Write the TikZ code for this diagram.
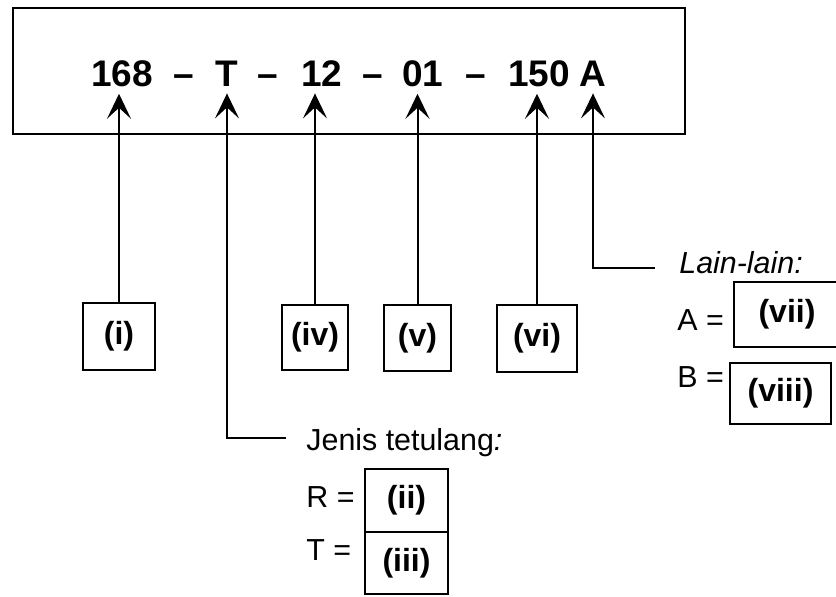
\documentclass[tikz,border=0pt]{standalone}
\usepackage{fontspec}
\setmainfont{Liberation Sans}
\usetikzlibrary{arrows.meta, positioning}

\begin{document}
\begin{tikzpicture}[
    x=0.5pt, y=-0.5pt,
    frame/.style={draw, line width=1pt, rectangle, minimum width=336pt, minimum height=63pt, inner sep=0pt},
    codetxt/.style={font=\fontsize{18.5}{20}\selectfont\bfseries, anchor=base, inner sep=3.5pt},
    ansbox/.style={draw, line width=0.9pt, rectangle, inner sep=0pt, font=\fontsize{16}{18}\selectfont\bfseries},
    note/.style={font=\fontsize{15.2}{17}\selectfont, anchor=base west, inner sep=0pt},
    arrow/.style={-{Stealth[length=12.5pt, width=12pt, inset=5.5pt]}, line width=1pt}
]
\useasboundingbox (0,0) rectangle (836,596);

% Frame
\node[frame] (code) at (349,71) {};

% Code parts
\node[codetxt] (t168) at (122,86) {168};
\node[codetxt] (d1) at (184,86) {\textendash};
\node[codetxt] (tT) at (227,86) {T};
\node[codetxt] (d2) at (268,86) {\textendash};
\node[codetxt] (t12) at (322,86) {12};
\node[codetxt] (d3) at (373,86) {\textendash};
\node[codetxt] (t01) at (423,86) {01};
\node[codetxt] (d4) at (476,86) {\textendash};
\node[codetxt] (t150) at (539,86) {150};
\node[codetxt] (tA) at (593,86) {A};

% Answer boxes
\node[ansbox, minimum width=36pt, minimum height=33.5pt] (bi) at (119,336.5) {(i)};
\node[ansbox, minimum width=33pt, minimum height=32.5pt] (biv) at (315,337.5) {(iv)};
\node[ansbox, minimum width=33.5pt, minimum height=33pt] (bv) at (417.5,338) {(v)};
\node[ansbox, minimum width=40pt, minimum height=33.5pt] (bvi) at (537,338.5) {(vi)};

% Jenis tetulang
\node[note] (jenis) at (306,450) {Jenis tetulang\textit{:}};
\node[note] (eqR) at (306,507) {R =};
\node[note] (eqT) at (306,560) {T =};
\node[ansbox, minimum width=41.5pt, minimum height=31.5pt] (bii) at (406.5,500.5) {(ii)};
\node[ansbox, minimum width=41.5pt, minimum height=31pt] (biii) at (406.5,563) {(iii)};

% Lain-lain
\node[note] (lain) at (679,273) {\itshape Lain-lain:};
\node[note] (eqA) at (677,330) {A =};
\node[note] (eqB) at (677,387) {B =};
\node[ansbox, minimum width=53pt, minimum height=32.5pt] (bvii) at (787,314.5) {(vii)};
\node[ansbox, minimum width=50.5pt, minimum height=30.5pt] (bviii) at (780.5,393.5) {(viii)};

% Arrows
\draw[arrow] (bi.north) -- (bi.north |- t168.south);
\draw[arrow] (biv.north) -- (biv.north |- t12.south);
\draw[arrow] (bv.north) -- (bv.north |- t01.south);
\draw[arrow] (bvi.north) -- (bvi.north |- t150.south);

% Bent connectors
\coordinate (jenisend) at (286,438);
\coordinate (lainend) at (655,268);
\draw[arrow] (jenisend) -| (tT.south);
\draw[arrow] (lainend) -| (tA.south);

\end{tikzpicture}
\end{document}
